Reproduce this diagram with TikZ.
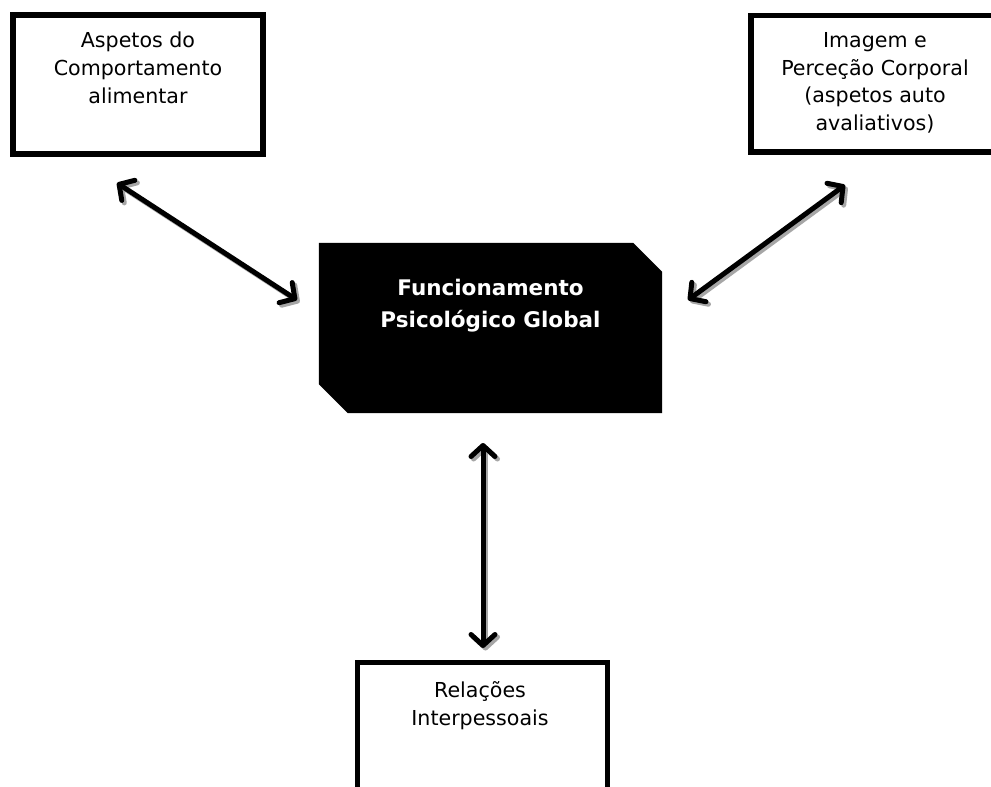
\documentclass[tikz,border=0pt]{standalone}
\usepackage{fontspec}
\setmainfont{DejaVu Sans}
\usetikzlibrary{arrows.meta,calc}
\begin{document}
\begin{tikzpicture}[x=1pt,y=-1pt]
\tikzset{
  box/.style={draw=black, line width=5.5pt, fill=white, inner sep=0pt},
  boxtext/.style={anchor=north, inner sep=0pt, align=center, font=\fontsize{20.6}{27.8}\selectfont},
  centertext/.style={anchor=north, inner sep=0pt, align=center, text=white, font=\bfseries\fontsize{21.5}{32}\selectfont},
  dbl/.style={line width=5pt, {Straight Barb[length=11pt,width=24pt,round]}-{Straight Barb[length=11pt,width=24pt,round]}},
  shadowline/.style={dbl, draw=black!35, transform canvas={shift={(2.5,2.5)}}},
}
\useasboundingbox (0,0) rectangle (991,787);
\fill[white] (0,0) rectangle (991,787);
% boxes
\node[box, minimum width=250pt, minimum height=139pt] (b1) at (138,84.5) {};
\node[box, minimum width=248pt, minimum height=136.5pt] (b2) at (875,83.75) {};
\node[box, minimum width=250pt, minimum height=150pt] (b3) at (482.5,737.5) {};
\node[boxtext] (t1) at (138,32) {Aspetos do\\Comportamento\\alimentar};
\node[boxtext] (t2) at (875,32) {Imagem e\\Perceção Corporal\\(aspetos auto\\avaliativos)};
\node[boxtext] (t3) at (480,681) {Relações\\Interpessoais};
% center shape
\node[inner sep=0pt, minimum width=343pt, minimum height=170pt] (fpg) at (490.5,328) {};
\fill[black] (fpg.north west) -- ($(fpg.north east)+(-29,0)$) -- ($(fpg.north east)+(0,29)$)
  -- (fpg.south east) -- ($(fpg.south west)+(29,0)$) -- ($(fpg.south west)+(0,-29)$) -- cycle;
\node[centertext] (tc) at (490.5,279) {Funcionamento\\Psicológico Global};
% arrows
\coordinate (a1s) at (117,183);
\coordinate (a1e) at (297,300);
\coordinate (a2s) at (845,185);
\coordinate (a2e) at (688,300);
\coordinate (a3s) at (483,443);
\coordinate (a3e) at (483,648);
\draw[shadowline] (a1s) -- (a1e);
\draw[shadowline] (a2s) -- (a2e);
\draw[shadowline] (a3s) -- (a3e);
\draw[dbl] (a1s) -- (a1e);
\draw[dbl] (a2s) -- (a2e);
\draw[dbl] (a3s) -- (a3e);
\end{tikzpicture}
\end{document}
